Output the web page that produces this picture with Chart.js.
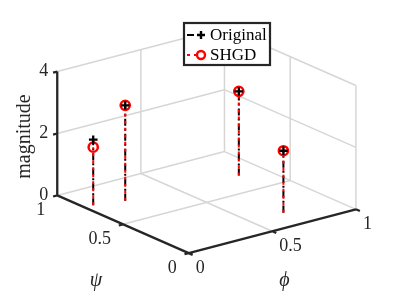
<!DOCTYPE html>
<html><head><meta charset="utf-8">
<script src="https://cdn.jsdelivr.net/npm/chart.js@4/dist/chart.umd.min.js"></script>
<style>html,body{margin:0;padding:0;background:#fff;}canvas{display:block;}</style>
</head><body>
<canvas id="c" width="399" height="299"></canvas>
<script>
// ---- data ----
const phiValues   = [0.05, 0.21, 0.85, 0.70];
const psiValues   = [0.79, 0.75, 0.70, 0.17];
const originalMag = [2.12, 3.08, 2.72, 2.00];
const shgdMag     = [1.88, 3.08, 2.72, 2.00];
const phiTicks = [0, 0.5, 1];
const psiTicks = [0, 0.5, 1];
const zTicks   = [0, 2, 4];
const phiTickLabels = ['0', '0.5', '1'];
const psiTickLabels = ['0', '0.5', '1'];
const zTickLabels   = ['0', '2', '4'];
const seriesNames = ['Original', 'SHGD'];
const axisLabels = {phi: '\u03D5', psi: '\u03C8', z: 'magnitude'};

// ---- view (oblique projection of the 3-D box into the flat chart space) ----
const VIEW = {ox: 188.3, oy: 258.3, phx: 173.4, phy: -46.0, psx: -136.3, psy: -60.6, zy: -32.5};
const PHI_MAX = phiTicks[phiTicks.length - 1], PSI_MAX = psiTicks[psiTicks.length - 1], Z_MAX = zTicks[zTicks.length - 1];
function proj(phi, psi, z) {
  return {x: VIEW.ox + phi * VIEW.phx + psi * VIEW.psx,
          y: VIEW.oy + phi * VIEW.phy + psi * VIEW.psy + z * VIEW.zy};
}
const GAP = {x: null, y: null};
function segs(list) {
  const out = [];
  list.forEach(s => { out.push(proj(...s[0]), proj(...s[1]), GAP); });
  return out;
}
function unit(x, y, len) { const n = Math.hypot(x, y); return [x / n * len, y / n * len]; }

// grid lines (back walls + floor)
const gridSegs = [];
phiTicks.filter(t => t > 0).forEach(t => {
  gridSegs.push([[t, 0, 0], [t, PSI_MAX, 0]]);
  gridSegs.push([[t, PSI_MAX, 0], [t, PSI_MAX, Z_MAX]]);
});
psiTicks.filter(s => s > 0).forEach(s => gridSegs.push([[0, s, 0], [PHI_MAX, s, 0]]));
psiTicks.filter(s => s < PSI_MAX).forEach(s => gridSegs.push([[PHI_MAX, s, 0], [PHI_MAX, s, Z_MAX]]));
zTicks.filter(z => z > 0).forEach(z => {
  gridSegs.push([[0, PSI_MAX, z], [PHI_MAX, PSI_MAX, z]]);
  gridSegs.push([[PHI_MAX, 0, z], [PHI_MAX, PSI_MAX, z]]);
});

// black axes
const axisSegs = [
  [[0, PSI_MAX, 0], [0, PSI_MAX, Z_MAX]],
  [[0, 0, 0], [0, PSI_MAX, 0]],
  [[0, 0, 0], [PHI_MAX, 0, 0]]
];
const axisData = segs(axisSegs);
// tick marks
const tPhi = unit(-VIEW.psx, -VIEW.psy, 4.5);
const tPsi = unit(-VIEW.phx, -VIEW.phy, 4.5);
phiTicks.forEach(t => { const p = proj(t, 0, 0); axisData.push(p, {x: p.x + tPhi[0], y: p.y + tPhi[1]}, GAP); });
psiTicks.forEach(s => { const p = proj(0, s, 0); axisData.push(p, {x: p.x + tPsi[0], y: p.y + tPsi[1]}, GAP); });
zTicks.forEach(z => { const p = proj(0, PSI_MAX, z); axisData.push(p, {x: p.x + tPsi[0], y: p.y + tPsi[1]}, GAP); });

function stems(mag) {
  const out = [];
  mag.forEach((m, i) => { out.push(proj(phiValues[i], psiValues[i], 0), proj(phiValues[i], psiValues[i], m), GAP); });
  return out;
}
function tops(mag) { return mag.map((m, i) => proj(phiValues[i], psiValues[i], m)); }

const ORIG_STYLE = {color: '#000000', dash: [7, 3, 2, 3], width: 2};
const SHGD_STYLE = {color: '#ff0000', dash: [3, 4], width: 2};

const datasets = [
  {label: 'grid', data: segs(gridSegs), showLine: true, borderColor: '#d6d6d6', borderWidth: 1.5, pointRadius: 0, order: 6},
  {label: 'axes', data: axisData, showLine: true, borderColor: '#262626', borderWidth: 2.3, pointRadius: 0, order: 5},
  {label: 'origStem', data: stems(originalMag), showLine: true, borderColor: ORIG_STYLE.color, borderWidth: ORIG_STYLE.width, borderDash: ORIG_STYLE.dash, pointRadius: 0, order: 4},
  {label: 'shgdStem', data: stems(shgdMag), showLine: true, borderColor: SHGD_STYLE.color, borderWidth: SHGD_STYLE.width, borderDash: SHGD_STYLE.dash, pointRadius: 0, order: 3},
  {label: 'shgdMk', data: tops(shgdMag), showLine: false, pointStyle: 'circle', pointRadius: 4.6, pointBorderWidth: 2.5, pointBorderColor: SHGD_STYLE.color, pointBackgroundColor: 'rgba(0,0,0,0)', order: 2},
  {label: 'origMk', data: tops(originalMag), showLine: false, pointStyle: 'cross', pointRadius: 4.3, pointBorderWidth: 2.3, pointBorderColor: ORIG_STYLE.color, pointBackgroundColor: ORIG_STYLE.color, order: 1}
];

const labelPlugin = {
  id: 'labels3d',
  afterDraw(chart) {
    const ctx = chart.ctx, sx = chart.scales.x, sy = chart.scales.y;
    const P = (a, b, c) => { const p = proj(a, b, c); return {x: sx.getPixelForValue(p.x), y: sy.getPixelForValue(p.y)}; };
    ctx.save();
    ctx.fillStyle = '#262626';
    ctx.font = "18px 'Liberation Serif'";
    ctx.textBaseline = 'middle';
    ctx.textAlign = 'right';
    zTicks.forEach((z, i) => { const p = P(0, PSI_MAX, z); ctx.fillText(zTickLabels[i], p.x - 9, p.y); });
    psiTicks.forEach((s, i) => { const p = P(0, s, 0); ctx.fillText(psiTickLabels[i], p.x - 12, p.y + 15); });
    ctx.textAlign = 'left';
    phiTicks.forEach((t, i) => { const p = P(t, 0, 0); ctx.fillText(phiTickLabels[i], p.x + 7, p.y + 15); });
    // axis labels
    ctx.textAlign = 'center';
    ctx.font = "italic 20px 'Liberation Serif'";
    let p = P(0, PSI_MAX / 2, 0); ctx.fillText(axisLabels.psi, p.x - 27, p.y + 56);
    p = P(PHI_MAX / 2, 0, 0); ctx.fillText(axisLabels.phi, p.x + 12, p.y + 50);
    ctx.font = "20px 'Liberation Serif'";
    p = P(0, PSI_MAX, Z_MAX / 2);
    ctx.save(); ctx.translate(p.x - 32, p.y + 3); ctx.rotate(-Math.PI / 2); ctx.fillText(axisLabels.z, 0, 0); ctx.restore();
    // legend
    const bx = 184, by = 23, bw = 86, bh = 42;
    ctx.fillStyle = '#ffffff'; ctx.fillRect(bx, by, bw, bh);
    ctx.strokeStyle = '#262626'; ctx.lineWidth = 2.2; ctx.strokeRect(bx, by, bw, bh);
    const rows = [by + 12, by + 32];
    const styles = [ORIG_STYLE, SHGD_STYLE];
    rows.forEach((ry, i) => {
      const st = styles[i];
      ctx.save();
      ctx.strokeStyle = st.color; ctx.lineWidth = st.width; ctx.setLineDash(st.dash);
      ctx.beginPath(); ctx.moveTo(bx + 3, ry); ctx.lineTo(bx + 17, ry); ctx.stroke();
      ctx.setLineDash([]);
      ctx.lineWidth = 2.4;
      ctx.beginPath();
      if (i === 0) { ctx.moveTo(bx + 13, ry); ctx.lineTo(bx + 21, ry); ctx.moveTo(bx + 17, ry - 4); ctx.lineTo(bx + 17, ry + 4); }
      else { ctx.arc(bx + 17, ry, 4, 0, Math.PI * 2); }
      ctx.stroke();
      ctx.restore();
      ctx.fillStyle = '#000000'; ctx.font = "17px 'Liberation Serif'"; ctx.textAlign = 'left';
      ctx.fillText(seriesNames[i], bx + 26, ry + 1);
    });
    ctx.restore();
  }
};

new Chart(document.getElementById('c'), {
  type: 'scatter',
  data: {datasets},
  options: {
    responsive: false, animation: false, devicePixelRatio: 1, events: [],
    layout: {padding: 0},
    plugins: {legend: {display: false}, tooltip: {enabled: false}},
    scales: {
      x: {type: 'linear', min: 0, max: 399, display: false},
      y: {type: 'linear', min: 0, max: 299, reverse: true, display: false}
    }
  },
  plugins: [labelPlugin]
});
</script>
</body></html>
